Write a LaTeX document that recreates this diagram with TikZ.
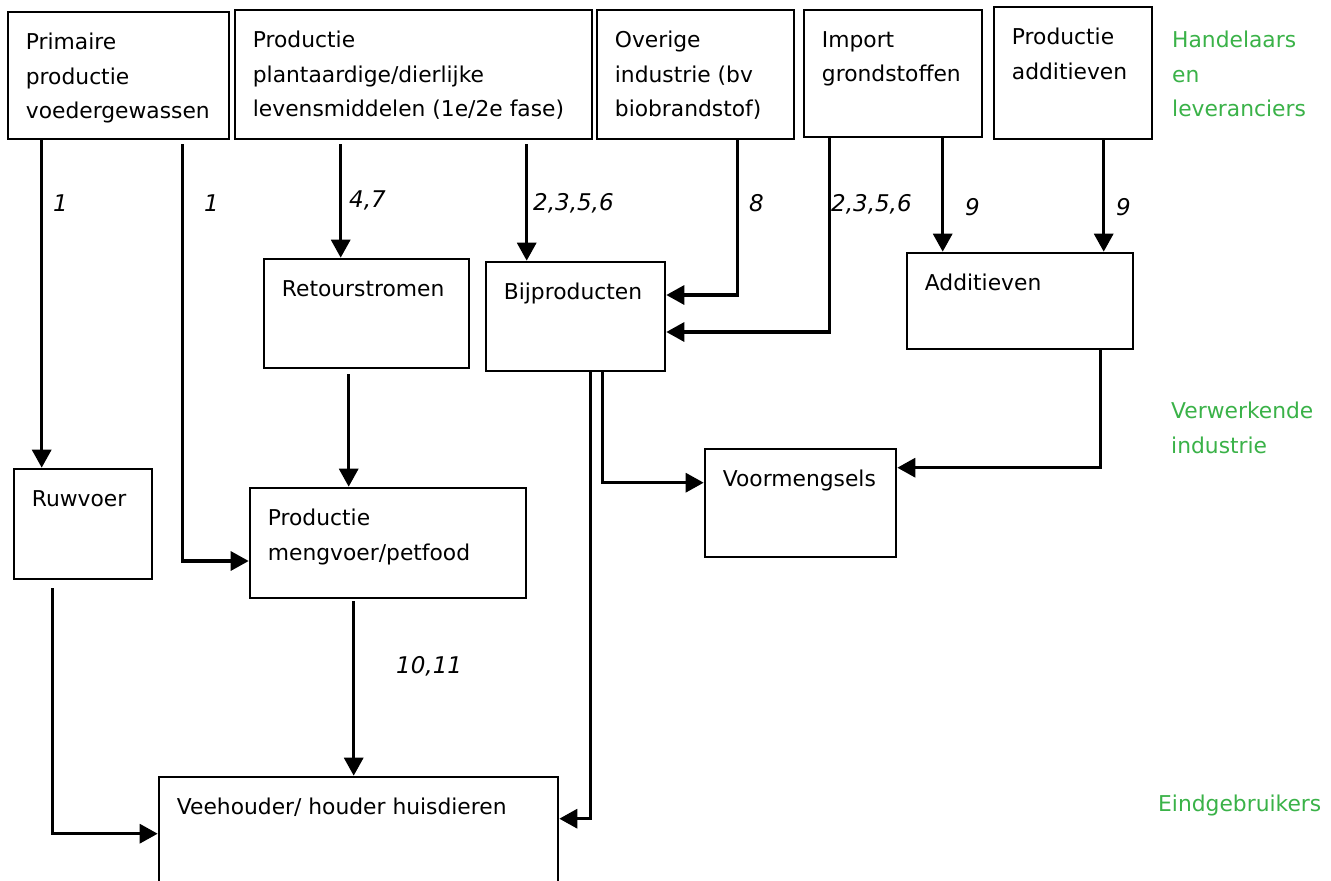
\documentclass[tikz,border=0pt]{standalone}
\usepackage{fontspec}
\setmainfont{DejaVu Sans}
\usepackage{xcolor}
\usepackage{tikz}
\usetikzlibrary{arrows.meta, positioning, calc}
\definecolor{laaggroen}{RGB}{58,178,72}

\begin{document}
\begin{tikzpicture}[x=1pt, y=-1pt,
  every node/.style={font=\fontsize{21.8}{34.5}\selectfont},
  box/.style={rectangle, draw, line width=2.6pt, inner sep=0pt},
  txt/.style={anchor=north west, align=left, inner sep=0pt, xshift=19pt, yshift=-22.5pt},
  arr/.style={-{Triangle[length=18pt,width=19pt]}, line width=3.2pt},
  lab/.style={anchor=west, inner sep=0pt, font=\fontsize{23}{25}\selectfont\itshape},
  laag/.style={anchor=north west, align=left, inner sep=0pt, text=laaggroen},
]
  \useasboundingbox (0,0) rectangle (1331,881);
  \fill[white] (0,0) rectangle (1331,881);
  \clip (0,0) rectangle (1331,881);

  % bovenste rij: handelaars en leveranciers
  \node[box, minimum width=221pt, minimum height=127pt, label={[txt]north west:{Primaire\\productie\\voedergewassen}}] (prim) at (118.5,75.5) {};
  \node[box, minimum width=357pt, minimum height=129pt, label={[txt]north west:{Productie\\plantaardige/dierlijke\\levensmiddelen (1e/2e fase)}}] (plant) at (413.5,74.5) {};
  \node[box, minimum width=197pt, minimum height=129pt, label={[txt]north west:{Overige\\industrie (bv\\biobrandstof)}}] (over) at (695.5,74.5) {};
  \node[box, minimum width=178pt, minimum height=127pt, label={[txt]north west:{Import\\grondstoffen}}] (imp) at (893,73.5) {};
  \node[box, minimum width=158pt, minimum height=132pt, label={[txt]north west:{Productie\\additieven}}] (addt) at (1073,73) {};

  % verwerkende industrie
  \node[box, minimum width=205pt, minimum height=109pt, label={[txt]north west:{Retourstromen}}] (retour) at (366.5,313.5) {};
  \node[box, minimum width=179pt, minimum height=109pt, label={[txt]north west:{Bijproducten}}] (bij) at (575.5,316.5) {};
  \node[box, minimum width=226pt, minimum height=96pt, label={[txt]north west:{Additieven}}] (addm) at (1020,301) {};
  \node[box, minimum width=138pt, minimum height=110pt, label={[txt]north west:{Ruwvoer}}] (ruw) at (83,524) {};
  \node[box, minimum width=276pt, minimum height=110pt, label={[txt]north west:{Productie\\mengvoer/petfood}}] (meng) at (388,543) {};
  \node[box, minimum width=191pt, minimum height=108pt, label={[txt]north west:{Voormengsels}}] (voorm) at (800.5,503) {};

  % eindgebruikers
  \node[box, minimum width=399pt, minimum height=123pt, label={[txt]north west:{Veehouder/ houder huisdieren}}] (veeh) at (358.5,838.5) {};

  % stromen
  \draw[arr] ([xshift=35pt]prim.south west) -- ([xshift=29pt]ruw.north west);
  \draw[arr, shorten <=4pt] ([xshift=176pt]prim.south west) |- ([yshift=-18pt]meng.west);
  \draw[arr, shorten <=4pt] ([xshift=107pt]plant.south west) -- ([xshift=78pt]retour.north west);
  \draw[arr, shorten <=4pt] ([xshift=293pt]plant.south west) -- ([xshift=42pt]bij.north west);
  \draw[arr] ([xshift=142pt]over.south west) |- ([yshift=21.5pt]bij.east);
  \draw[arr] ([xshift=27pt]imp.south west) |- ([yshift=-15.5pt]bij.east);
  \draw[arr] ([xshift=140pt]imp.south west) -- ([xshift=37pt]addm.north west);
  \draw[arr] ([xshift=111pt]addt.south west) -- ([xshift=198pt]addm.north west);
  \draw[arr, shorten <=5pt] ([xshift=86pt]retour.south west) -- ([xshift=100pt]meng.north west);
  \draw[arr] ([xshift=106pt]bij.south west) |- ([yshift=-43pt]veeh.north east);
  \draw[arr] ([xshift=118pt]bij.south west) |- ([yshift=-35pt]voorm.north west);
  \draw[arr] ([xshift=195pt]addm.south west) |- ([yshift=-20pt]voorm.north east);
  \draw[arr, shorten <=8pt] ([xshift=40pt]ruw.south west) |- ([yshift=-58pt]veeh.north west);
  \draw[arr, shorten <=2pt] ([xshift=105pt]meng.south west) -- ([xshift=196pt]veeh.north west);

  % nummers bij de stromen
  \node[lab] (n1a) at (53,203) {1};
  \node[lab] (n1b) at (204,203) {1};
  \node[lab] (n47) at (349,200) {4,7};
  \node[lab] (n2356a) at (533,203) {2,3,5,6};
  \node[lab] (n8) at (749,203) {8};
  \node[lab] (n2356b) at (831,204) {2,3,5,6};
  \node[lab] (n9a) at (965,207) {9};
  \node[lab] (n9b) at (1116,207) {9};
  \node[lab] (n1011) at (396,666) {10,11};

  % lagen
  \node[laag] (hand) at (1172,31) {Handelaars\\en\\leveranciers};
  \node[laag] (verw) at (1171,402) {Verwerkende\\industrie};
  \node[laag] (eind) at (1158,795) {Eindgebruikers};
\end{tikzpicture}
\end{document}
